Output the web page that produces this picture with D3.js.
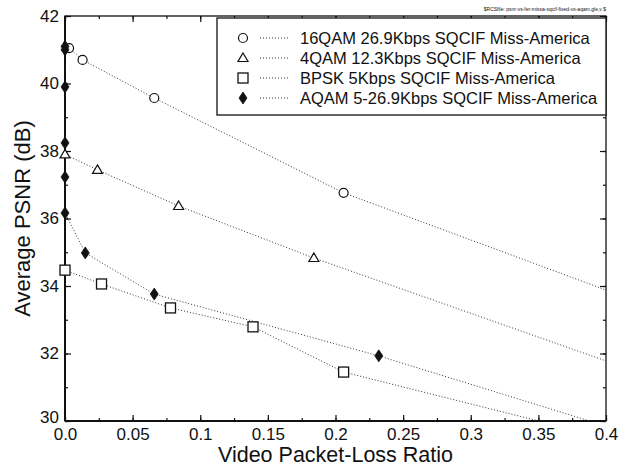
<!DOCTYPE html>
<html>
<head>
<meta charset="utf-8">
<script src="https://cdn.jsdelivr.net/npm/d3@7"></script>
<style>
  body { margin: 0; background: #fff; }
  svg { font-family: "Liberation Sans", Arial, Helvetica, sans-serif; }
  .axis path { display: none; }
  .axis line { stroke: #111; stroke-width: 1.2; }
  .axis text { font-size: 17px; fill: #111; }
</style>
</head>
<body>
<div id="chart"></div>
<script>
// data
var qam16X = [0.003, 0.013, 0.066, 0.206];
var qam16Y = [41.05, 40.7, 39.57, 36.76];
var qam16Tail = [0.4, 33.88];

var qam4X = [0.0, 0.024, 0.084, 0.184];
var qam4Y = [37.9, 37.44, 36.37, 34.83];
var qam4Tail = [0.4, 31.78];

var bpskX = [0.0, 0.027, 0.078, 0.139, 0.206];
var bpskY = [34.47, 34.06, 33.35, 32.79, 31.45];
var bpskTail = [0.4, 29.5];

var aqamX = [0.0, 0.0, 0.0, 0.0, 0.0, 0.0, 0.015, 0.066, 0.232];
var aqamY = [41.1, 41.0, 39.9, 38.24, 37.23, 36.16, 34.98, 33.76, 31.93];
var aqamTail = [0.4, 29.85];

var seriesNames = [
  "16QAM 26.9Kbps SQCIF Miss-America",
  "4QAM 12.3Kbps SQCIF Miss-America",
  "BPSK 5Kbps SQCIF Miss-America",
  "AQAM 5-26.9Kbps SQCIF Miss-America"
];

var xTicks = [0, 0.05, 0.1, 0.15, 0.2, 0.25, 0.3, 0.35, 0.4];
var xTickLabels = ["0.0", "0.05", "0.1", "0.15", "0.2", "0.25", "0.3", "0.35", "0.4"];
var yTicks = [30, 32, 34, 36, 38, 40, 42];

// SVG set up
var svgWidth = 619;
var svgHeight = 468;
var margin = { top: 16, right: 13, bottom: 47, left: 65 };
var width = svgWidth - margin.left - margin.right;
var height = svgHeight - margin.top - margin.bottom;

var svg = d3.select("#chart")
  .append("svg")
  .attr("width", svgWidth)
  .attr("height", svgHeight);

var chartGroup = svg.append("g")
  .attr("transform", `translate(${margin.left}, ${margin.top})`);

var xScale = d3.scaleLinear().domain([0, 0.4]).range([0, width]);
var yScale = d3.scaleLinear().domain([30, 42]).range([height, 0]);

// clip for the lines
svg.append("defs").append("clipPath").attr("id", "plotclip")
  .append("rect").attr("width", width).attr("height", height);

// ticks, pointing inward on all four sides
var xMinor = d3.range(0, 0.4001, 0.025);
var yMinor = d3.range(30, 42.001, 1);

chartGroup.append("g").attr("class", "axis")
  .attr("transform", `translate(0, ${height})`)
  .call(d3.axisBottom(xScale).tickValues(xTicks).tickSizeInner(-6).tickSizeOuter(0).tickPadding(7)
    .tickFormat((d, i) => xTickLabels[i]));
chartGroup.append("g").attr("class", "axis")
  .attr("transform", `translate(0, ${height})`)
  .call(d3.axisBottom(xScale).tickValues(xMinor).tickSizeInner(-3).tickSizeOuter(0).tickFormat(""));
chartGroup.append("g").attr("class", "axis")
  .call(d3.axisTop(xScale).tickValues(xTicks).tickSizeInner(-6).tickSizeOuter(0).tickFormat(""));
chartGroup.append("g").attr("class", "axis")
  .call(d3.axisTop(xScale).tickValues(xMinor).tickSizeInner(-3).tickSizeOuter(0).tickFormat(""));

var yAxisG = chartGroup.append("g").attr("class", "axis")
  .call(d3.axisLeft(yScale).tickValues(yTicks).tickSizeInner(-6).tickSizeOuter(0).tickPadding(6)
    .tickFormat(d3.format("d")));
// lift the bottom label a touch so it clears "0.0"
yAxisG.selectAll(".tick text").filter(d => d === 30).attr("dy", "0.1em");

chartGroup.append("g").attr("class", "axis")
  .call(d3.axisLeft(yScale).tickValues(yMinor).tickSizeInner(-3).tickSizeOuter(0).tickFormat(""));
chartGroup.append("g").attr("class", "axis")
  .attr("transform", `translate(${width}, 0)`)
  .call(d3.axisRight(yScale).tickValues(yTicks).tickSizeInner(-6).tickSizeOuter(0).tickFormat(""));
chartGroup.append("g").attr("class", "axis")
  .attr("transform", `translate(${width}, 0)`)
  .call(d3.axisRight(yScale).tickValues(yMinor).tickSizeInner(-3).tickSizeOuter(0).tickFormat(""));

// frame
chartGroup.append("rect")
  .attr("width", width).attr("height", height)
  .attr("fill", "none").attr("stroke", "#111").attr("stroke-width", 1.3);
chartGroup.append("line")
  .attr("x1", 0).attr("x2", 0).attr("y1", 0).attr("y2", height)
  .attr("stroke", "#111").attr("stroke-width", 2);
chartGroup.append("line")
  .attr("x1", 0).attr("x2", width).attr("y1", height).attr("y2", height)
  .attr("stroke", "#111").attr("stroke-width", 2);

// series
var series = [
  { xs: qam16X, ys: qam16Y, tail: qam16Tail, sym: "circle" },
  { xs: qam4X, ys: qam4Y, tail: qam4Tail, sym: "triangle" },
  { xs: bpskX, ys: bpskY, tail: bpskTail, sym: "square" },
  { xs: aqamX, ys: aqamY, tail: aqamTail, sym: "diamond" }
];

var line = d3.line().x(d => xScale(d[0])).y(d => yScale(d[1]));

function drawSymbol(g, sym, x, y) {
  if (sym === "circle") {
    g.append("circle").attr("cx", x).attr("cy", y).attr("r", 4.5)
      .attr("fill", "#fff").attr("stroke", "#111").attr("stroke-width", 1.2);
  } else if (sym === "triangle") {
    g.append("path")
      .attr("d", `M${x},${y - 5} L${x + 5},${y + 3.5} L${x - 5},${y + 3.5} Z`)
      .attr("fill", "#fff").attr("stroke", "#111").attr("stroke-width", 1.2);
  } else if (sym === "square") {
    g.append("rect").attr("x", x - 5).attr("y", y - 5).attr("width", 10).attr("height", 10)
      .attr("fill", "#fff").attr("stroke", "#111").attr("stroke-width", 1.3);
  } else {
    g.append("path")
      .attr("d", `M${x},${y - 6} L${x + 4},${y} L${x},${y + 6} L${x - 4},${y} Z`)
      .attr("fill", "#111").attr("stroke", "#111").attr("stroke-width", 0.8);
  }
}

series.forEach(function (s) {
  var pts = s.xs.map((x, i) => [x, s.ys[i]]);
  chartGroup.append("path")
    .datum(pts.concat([s.tail]))
    .attr("clip-path", "url(#plotclip)")
    .attr("d", line)
    .attr("fill", "none")
    .attr("stroke", "#333")
    .attr("stroke-width", 1)
    .attr("stroke-dasharray", "1,2");
});

series.forEach(function (s) {
  var g = chartGroup.append("g");
  s.xs.forEach(function (x, i) {
    drawSymbol(g, s.sym, xScale(x), yScale(s.ys[i]));
  });
});

// legend
var legend = chartGroup.append("g").attr("transform", "translate(152, 2)");
legend.append("rect")
  .attr("width", width - 152).attr("height", 97)
  .attr("fill", "#fff").attr("stroke", "#111").attr("stroke-width", 1.3);
seriesNames.forEach(function (name, i) {
  var yy = 20 + i * 20;
  drawSymbol(legend, series[i].sym, 26, yy);
  legend.append("line")
    .attr("x1", 43).attr("x2", 71).attr("y1", yy).attr("y2", yy)
    .attr("stroke", "#333").attr("stroke-dasharray", "1,2");
  legend.append("text")
    .attr("x", 83).attr("y", yy + 6)
    .attr("font-size", "16.5px").attr("fill", "#111")
    .text(name);
});

// axis labels
chartGroup.append("text")
  .attr("transform", "rotate(-90)")
  .attr("x", -height / 2)
  .attr("y", -margin.left + 30)
  .attr("text-anchor", "middle")
  .attr("font-size", "22px").attr("fill", "#111")
  .text("Average PSNR (dB)");

chartGroup.append("text")
  .attr("x", width / 2)
  .attr("y", height + 41)
  .attr("text-anchor", "middle")
  .attr("font-size", "21.5px").attr("fill", "#111")
  .text("Video Packet-Loss Ratio");

// tiny file stamp above the frame
svg.append("text")
  .attr("x", svgWidth - margin.right)
  .attr("y", 11)
  .attr("text-anchor", "end")
  .attr("font-size", "5px").attr("fill", "#111")
  .text("$RCSfile: psnr-vs-fer-missa-sqcif-fixed-vs-aqam.gle,v $");
</script>
</body>
</html>
